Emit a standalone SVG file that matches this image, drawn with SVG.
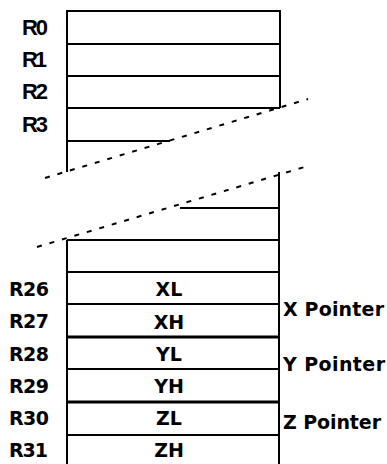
<svg xmlns="http://www.w3.org/2000/svg" width="387" height="464" viewBox="0 0 387 464">
<style>
.ln{stroke:#000;stroke-width:2;fill:none}
.tk{stroke:#000;stroke-width:3;fill:none}
.dash{stroke:#000;stroke-width:2;fill:none;stroke-dasharray:5 8}
.top{font-family:"Liberation Sans",Arial,sans-serif;font-weight:bold;font-size:22px;fill:#000}
.low{font-family:"DejaVu Sans",sans-serif;font-weight:bold;font-size:19px;fill:#000}
.mid{font-family:"DejaVu Sans",sans-serif;font-weight:bold;font-size:19px;fill:#000;text-anchor:middle}
.ptr{font-family:"DejaVu Sans",sans-serif;font-weight:bold;font-size:19px;fill:#000}
</style>
<rect width="387" height="464" fill="#fff"/>
<g id="upper-block">
<path class="ln" d="M67,172 V11 H280 V108 M67,44 H280 M67,76 H280 M67,108 H280 M67,141 H170"/>
</g>
<g id="lower-block">
<path class="ln" d="M279,172 V464 M180,208 H279 M67,240 H279 M67,240 V464 M67,272 H279 M67,304 H279 M67,369 H279 M67,435 H279"/>
<path class="tk" d="M67,337 H279 M67,402 H279"/>
</g>
<g id="connectors">
<line class="dash" x1="45" y1="178" x2="308" y2="99"/>
<line class="dash" x1="37" y1="247" x2="308" y2="166"/>
</g>
<g id="labels-top">
<text class="top" x="22" y="35" textLength="26">R0</text>
<text class="top" x="22" y="67" textLength="25">R1</text>
<text class="top" x="22" y="99" textLength="26">R2</text>
<text class="top" x="22" y="132" textLength="26">R3</text>
</g>
<g id="labels-regs">
<text class="low" x="9" y="296" textLength="40">R26</text>
<text class="low" x="9" y="328" textLength="40">R27</text>
<text class="low" x="9" y="361" textLength="40">R28</text>
<text class="low" x="9" y="393" textLength="40">R29</text>
<text class="low" x="9" y="425" textLength="40">R30</text>
<text class="low" x="9" y="457" textLength="39">R31</text>
</g>
<g id="cells">
<text class="mid" x="169" y="296">XL</text>
<text class="mid" x="169" y="329">XH</text>
<text class="mid" x="169" y="361">YL</text>
<text class="mid" x="169" y="393">YH</text>
<text class="mid" x="169" y="425">ZL</text>
<text class="mid" x="169" y="457">ZH</text>
</g>
<g id="pointers">
<text class="ptr" x="283" y="316" textLength="101">X Pointer</text>
<text class="ptr" x="283" y="371" textLength="102">Y Pointer</text>
<text class="ptr" x="283" y="429" textLength="98">Z Pointer</text>
</g>
</svg>
